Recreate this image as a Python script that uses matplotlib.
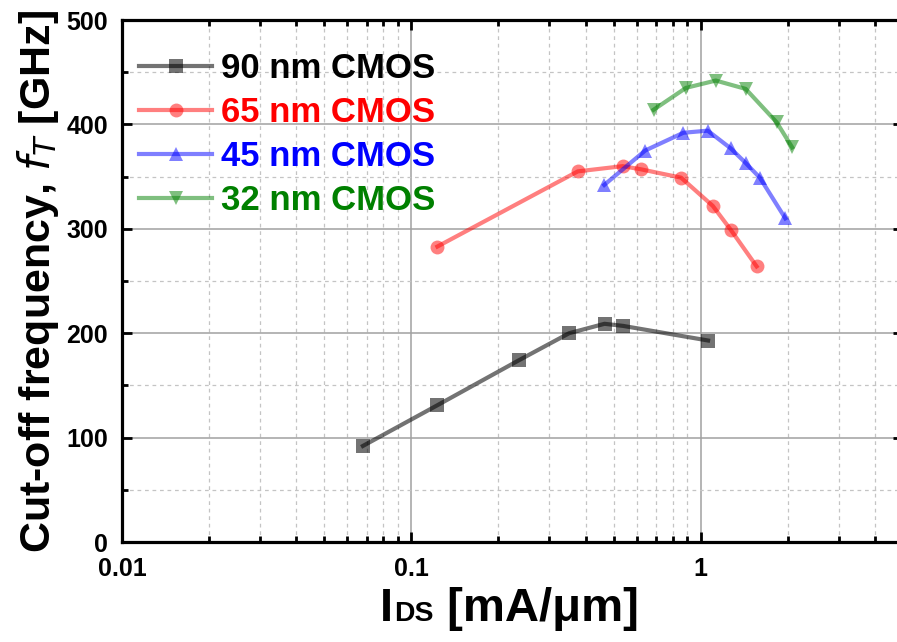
import matplotlib
matplotlib.use("Agg")
import matplotlib.pyplot as plt
from matplotlib.ticker import LogLocator, FixedLocator, NullFormatter, FixedFormatter

# ---- data ----
labels = ["90 nm CMOS", "65 nm CMOS", "45 nm CMOS", "32 nm CMOS"]
colors = ["#000000", "#ff0000", "#0000ff", "#008000"]
text_colors = ["#000000", "#ff0000", "#0000ff", "#008000"]
markers = ["s", "o", "^", "v"]

x90 = [0.068, 0.123, 0.235, 0.351, 0.465, 0.539, 1.06]
y90 = [92, 131, 174, 200, 209, 207, 193]
x65 = [0.123, 0.376, 0.537, 0.621, 0.855, 1.10, 1.27, 1.56]
y65 = [283, 355, 360, 357, 349, 322, 299, 264]
x45 = [0.464, 0.643, 0.871, 1.057, 1.27, 1.43, 1.60, 1.96]
y45 = [342, 375, 392, 394, 377, 363, 349, 310]
x32 = [0.687, 0.889, 1.127, 1.43, 1.83, 2.07]
y32 = [414, 435, 442, 434, 402, 378]

xs = [x90, x65, x45, x32]
ys = [y90, y65, y45, y32]

xticks = [0.01, 0.1, 1]
xticklabels = ["0.01", "0.1", "1"]
yticks = [0, 100, 200, 300, 400, 500]

plt.rcParams['font.family'] = ['Liberation Sans', 'DejaVu Sans']

W, H = 897, 642
fig = plt.figure(figsize=(W / 100, H / 100), dpi=100)
ax = fig.add_axes([122 / W, 100 / H, (903 - 122) / W, 522 / H])

for x, y, c, m, lab in zip(xs, ys, colors, markers, labels):
    alpha = 0.5 if c != "#000000" else 0.55
    ax.plot(x, y, color=c, marker=m, markersize=9.5 if m == "s" else 10,
            linewidth=3, alpha=alpha, markeredgewidth=0, label=lab)

ax.set_xscale("log")
ax.set_xlim(0.01, 5)
ax.set_ylim(0, 500)

ax.xaxis.set_major_locator(FixedLocator(xticks))
ax.xaxis.set_major_formatter(FixedFormatter(xticklabels))
ax.xaxis.set_minor_locator(LogLocator(base=10, subs=range(2, 10), numticks=20))
ax.xaxis.set_minor_formatter(NullFormatter())
ax.yaxis.set_major_locator(FixedLocator(yticks))
ax.yaxis.set_minor_locator(FixedLocator([50, 150, 250, 350, 450]))

ax.grid(which="major", color="#a0a0a0", linewidth=1.1, linestyle="-")
ax.grid(which="minor", color="#c4c4c4", linewidth=0.9, linestyle=(0, (3, 3)))
ax.set_axisbelow(True)

for s in ax.spines.values():
    s.set_linewidth(2.3)

ax.tick_params(which="both", direction="in", top=True, right=True, width=2)
ax.tick_params(which="major", length=7)
ax.tick_params(which="minor", length=4)
ax.tick_params(axis="y", which="major", labelsize=18, pad=10)
ax.tick_params(axis="x", which="major", labelsize=18, pad=11)
for t in ax.get_xticklabels() + ax.get_yticklabels():
    t.set_fontweight("bold")

ax.set_ylabel("Cut-off frequency, $\\mathit{f_T}$ [GHz]", fontsize=31,
              fontweight="bold", labelpad=4)

leg = ax.legend(loc="upper left", frameon=False,
                prop={"weight": "bold", "size": 25}, handlelength=2.1,
                handletextpad=0.25, labelspacing=0.32,
                bbox_to_anchor=(0.0, 0.972), borderaxespad=0.1)
for t, c in zip(leg.get_texts(), text_colors):
    t.set_color(c)

# x label composed of pieces: "I" + small "DS" + " [mA/μm]"
fig.canvas.draw()
r = fig.canvas.get_renderer()
base_y = 21 / H
fs = 34
t1 = fig.text(380 / W, base_y, "I", fontsize=fs, fontweight="bold", va="baseline")
bb = t1.get_window_extent(r)
t2 = fig.text((bb.x1 + 1) / W, base_y, "DS", fontsize=fs * 0.6, fontweight="bold", va="baseline")
bb2 = t2.get_window_extent(r)
t3 = fig.text(bb2.x1 / W, base_y, " [mA/\u03bcm]", fontsize=fs, fontweight="bold", va="baseline")

fig.savefig("out.png", dpi=100)
